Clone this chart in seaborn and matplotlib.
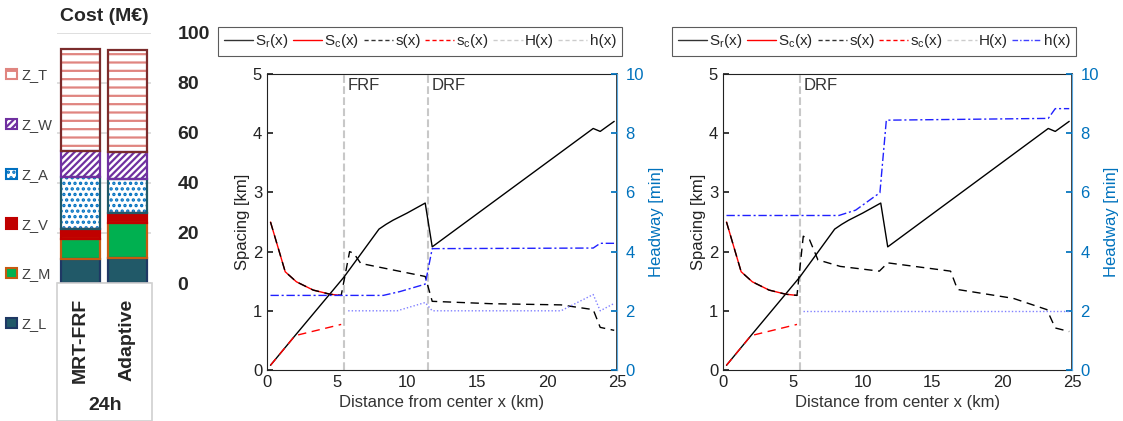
import matplotlib.pyplot as plt
import seaborn as sns
from matplotlib.lines import Line2D
from matplotlib.patches import Patch, Rectangle

# cost breakdown (M EUR), stacked from bottom
scenarios = ['MRT-FRF', 'Adaptive']
z_l = [9.6, 10.0]
z_m = [8.0, 13.9]
z_v = [3.9, 4.0]
z_a = [21.0, 13.8]
z_w = [10.2, 10.4]
z_t = [40.9, 40.9]

# S_r(x), same in both panels
sr_x = [0.25, 2.0, 5.5, 8.0, 8.5, 9.0, 10.0, 11.3, 11.8, 23.3, 23.8, 24.8]
sr_y = [0.08, 0.58, 1.57, 2.38, 2.46, 2.53, 2.65, 2.82, 2.08, 4.08, 4.03, 4.2]
# S_c(x)
sc_x = [0.25, 0.7, 1.3, 2.1, 3.3, 4.5, 5.3]
sc_y = [2.5, 2.14, 1.66, 1.49, 1.35, 1.28, 1.26]
# s_c(x)
scd_x = [0.25, 2.0, 5.3]
scd_y = [0.08, 0.58, 0.77]

# s(x), left panel (FRF + DRF)
s1_x = [0.25, 0.7, 1.3, 2.1, 3.3, 4.5, 5.3, 5.9, 6.2, 6.7, 11.3, 11.8, 16.0, 21.0, 23.3, 23.8, 24.8]
s1_y = [2.5, 2.14, 1.66, 1.49, 1.35, 1.28, 1.26, 2.0, 1.97, 1.8, 1.58, 1.16, 1.12, 1.1, 1.02, 0.72, 0.67]
# H(x) headway (min), left panel
H1_x = [0.25, 8.3, 9.5, 11.3, 11.8, 23.3, 23.8, 24.8]
H1_y = [2.52, 2.52, 2.65, 2.9, 4.1, 4.12, 4.28, 4.28]
# h(x) headway (min), left panel
h1_x = [5.8, 9.3, 11.3, 11.8, 21.0, 23.3, 23.8, 24.8]
h1_y = [2.0, 2.0, 2.28, 2.0, 2.0, 2.55, 2.0, 2.25]

# right panel (DRF only)
s2_x = [0.25, 0.7, 1.3, 2.1, 3.3, 4.5, 5.3, 5.75, 6.2, 6.8, 8.4, 11.2, 11.8, 16.3, 16.8, 20.8, 23.2, 23.8, 24.8]
s2_y = [2.5, 2.14, 1.66, 1.49, 1.35, 1.28, 1.26, 2.26, 2.2, 1.86, 1.75, 1.67, 1.81, 1.67, 1.36, 1.21, 1.02, 0.71, 0.65]
H2_x = [0.25, 8.3, 9.5, 11.24, 11.7, 23.3, 23.8, 24.8]
H2_y = [5.22, 5.22, 5.4, 5.99, 8.44, 8.5, 8.83, 8.83]
h2_x = [5.7, 24.8]
h2_y = [2.0, 2.0]

sns.set_theme(style='white')
plt.rcParams['font.family'] = ['Liberation Sans', 'DejaVu Sans']
plt.rcParams['mathtext.fontset'] = 'custom'
plt.rcParams['mathtext.rm'] = 'Liberation Sans'
plt.rcParams['hatch.linewidth'] = 1.6

W, H = 1123, 421
fig = plt.figure(figsize=(11.23, 4.21), dpi=100)


def fbox(x0, y0, x1, y1):
    return [x0 / W, 1 - y1 / H, (x1 - x0) / W, (y1 - y0) / H]


# ---------------- stacked cost bars ----------------
axb = fig.add_axes(fbox(57, 32.5, 151, 283))
parts = [
    ('Z_L', z_l, '#215968', None, None, '#1F3864'),
    ('Z_M', z_m, '#00B050', None, None, '#C55A11'),
    ('Z_V', z_v, '#C00000', None, None, '#C00000'),
    ('Z_A', z_a, 'white', '...', '#0070C0', '#215968'),
    ('Z_W', z_w, 'white', '/////', '#7030A0', '#7030A0'),
    ('Z_T', z_t, 'white', '--', '#E08580', '#7B2C2C'),
]
bottom = [0.0, 0.0]
handles = []
for name, vals, fill, hatch, hcol, edge in parts:
    if hatch:
        axb.bar(scenarios, vals, bottom=bottom, width=0.83, color=fill,
                hatch=hatch, edgecolor=hcol, linewidth=0, zorder=2)
    else:
        axb.bar(scenarios, vals, bottom=bottom, width=0.83, color=fill,
                linewidth=0, zorder=2)
    axb.bar(scenarios, vals, bottom=bottom, width=0.83, fill=False,
            edgecolor=edge, linewidth=1.6, zorder=3)
    bottom = [b + v for b, v in zip(bottom, vals)]
    handles.append(Patch(facecolor=fill, edgecolor=hcol if hatch else edge,
                         hatch=hatch, linewidth=1.5, label=name))

axb.set_ylim(0, 100)
axb.set_xlim(-0.5, 1.5)
axb.set_yticks(range(0, 101, 20))
axb.yaxis.tick_right()
axb.tick_params(axis='y', length=0, pad=19, labelsize=14)
for lab in axb.get_yticklabels():
    lab.set_fontweight('bold')
    lab.set_horizontalalignment('left')
axb.set_xticks([])
axb.grid(axis='y', color='#d9d9d9', linewidth=1.2, zorder=0)
for sp in axb.spines.values():
    sp.set_visible(False)
axb.set_title('Cost (M€)', fontsize=14, fontweight='bold', pad=8)

leg = axb.legend(handles=handles[::-1], loc='upper left',
                 bbox_to_anchor=(-0.6, 0.88), frameon=False, fontsize=10.5,
                 labelspacing=2.45, handlelength=0.7, handleheight=0.7,
                 handletextpad=0.3, borderaxespad=0)
for t in leg.get_texts():
    t.set_color('#404040')

for i, name in enumerate(scenarios):
    fig.text((80.5 + 47 * i) / W, 1 - 340 / H, name, rotation=90,
             ha='center', va='center', fontsize=14, fontweight='bold')
fig.text(105 / W, 1 - 405 / H, '24h', ha='center', va='center',
         fontsize=14, fontweight='bold')
fig.add_artist(Rectangle((57 / W, 0), 95 / W, 1 - 283 / H,
                         transform=fig.transFigure, fill=False,
                         edgecolor='#d0d0d0', linewidth=1.2))

# ---------------- spacing / headway panels ----------------
blue = '#0072BD'


def panel(box, s_x, s_y, hd_x, hd_y, hw_x, hw_y, marks, h_handle, leg_cx):
    ax = fig.add_axes(fbox(*box))
    ax2 = ax.twinx()
    for xv, lab in marks:
        ax.axvline(xv, color='#c8c8c8', linestyle='--', linewidth=1.5, zorder=1)
        ax.text(xv + 0.25, 4.93, lab, fontsize=12, color='#333333',
                ha='left', va='top')
    sns.lineplot(x=sr_x, y=sr_y, ax=ax, color='black', linewidth=1.0,
                 sort=False, estimator=None)
    sns.lineplot(x=sc_x, y=sc_y, ax=ax, color='red', linewidth=1.0,
                 sort=False, estimator=None)
    sns.lineplot(x=scd_x, y=scd_y, ax=ax, color='red', linewidth=1.0,
                 linestyle=(0, (6, 4)), sort=False, estimator=None)
    sns.lineplot(x=s_x, y=s_y, ax=ax, color='black', linewidth=1.0,
                 linestyle=(0, (6, 4)), sort=False, estimator=None)
    sns.lineplot(x=hd_x, y=hd_y, ax=ax2, color='#2020ff', linewidth=1.0,
                 linestyle=(0, (6, 2, 1.5, 2)), sort=False, estimator=None)
    sns.lineplot(x=hw_x, y=hw_y, ax=ax2, color='#8080ff', linewidth=1.0,
                 linestyle=(0, (1, 1.5)), sort=False, estimator=None)

    ax.set_xlim(0, 25)
    ax.set_ylim(0, 5)
    ax2.set_ylim(0, 10)
    ax.set_xticks(range(0, 26, 5))
    ax.set_yticks(range(0, 6))
    ax2.set_yticks(range(0, 11, 2))
    ax.tick_params(direction='in', length=4, labelsize=12, colors='#222222',
                   top=False, right=False)
    ax2.tick_params(direction='in', length=4, labelsize=12, colors=blue, pad=6)
    ax.set_xlabel('Distance from center x (km)', fontsize=12, color='#333333')
    ax.set_ylabel('Spacing [km]', fontsize=12, color='#222222', labelpad=2)
    ax2.set_ylabel('Headway [min]', fontsize=12, color=blue, labelpad=4)
    for sp in ['left', 'bottom', 'top']:
        ax.spines[sp].set_color('#222222')
        ax.spines[sp].set_linewidth(0.8)
    ax2.spines['right'].set_color('#5aa9e0')
    ax2.spines['right'].set_linewidth(0.8)
    for sp in ['left', 'bottom', 'top']:
        ax2.spines[sp].set_visible(False)

    hs = [
        Line2D([], [], color='#333333', lw=1.0),
        Line2D([], [], color='red', lw=1.0),
        Line2D([], [], color='#333333', lw=1.0, ls=(0, (3, 2))),
        Line2D([], [], color='red', lw=1.0, ls=(0, (3, 2))),
        Line2D([], [], color='#cccccc', lw=1.0, ls=(0, (3, 2))),
        h_handle,
    ]
    labels = ['S$_\\mathrm{r}$(x)', 'S$_\\mathrm{c}$(x)', 's(x)',
              's$_\\mathrm{c}$(x)', 'H(x)', 'h(x)']
    lg = fig.legend(hs, labels, loc='center', bbox_to_anchor=(leg_cx / W, 1 - 41.5 / H),
                    ncol=6, fontsize=11, frameon=True, fancybox=False,
                    edgecolor='#333333', handlelength=1.9, handletextpad=0.15,
                    columnspacing=0.3, borderpad=0.35)
    lg.get_frame().set_linewidth(0.8)
    return ax


panel((267, 74, 617, 370), s1_x, s1_y, H1_x, H1_y, h1_x, h1_y,
      [(5.5, 'FRF'), (11.5, 'DRF')],
      Line2D([], [], color='#cccccc', lw=1.0, ls=(0, (3, 2))), 420)
panel((723, 74, 1072, 370), s2_x, s2_y, H2_x, H2_y, h2_x, h2_y,
      [(5.5, 'DRF')],
      Line2D([], [], color='#4040ff', lw=1.0, ls=(0, (4, 1.5, 1, 1.5))), 874)

fig.savefig('out.png', dpi=100)
